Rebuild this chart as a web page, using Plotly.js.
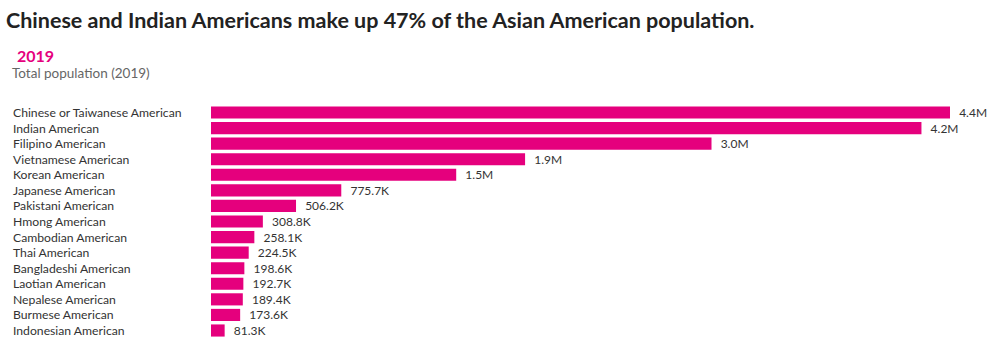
<!DOCTYPE html>
<html><head><meta charset="utf-8">
<script src="https://cdn.plot.ly/plotly-3.0.1.min.js"></script>
<style>body{margin:0;background:#fff}#c{width:1000px;height:361px}</style>
</head><body><div id="c"></div>
<script>
const categories = ["Chinese or Taiwanese American","Indian American","Filipino American","Vietnamese American","Korean American","Japanese American","Pakistani American","Hmong American","Cambodian American","Thai American","Bangladeshi American","Laotian American","Nepalese American","Burmese American","Indonesian American"];
const population = [4400000,4230000,2980000,1870000,1460000,775700,506200,308800,258100,224500,198600,192700,189400,173600,81300];
const valueLabels = ["4.4M","4.2M","3.0M","1.9M","1.5M","775.7K","506.2K","308.8K","258.1K","224.5K","198.6K","192.7K","189.4K","173.6K","81.3K"];
const FONT = "Lato, 'Open Sans', sans-serif";
const L = 211, R = 50, W = 1000 - L - R;
const annotations = [
  {text:"<b>Chinese and Indian Americans make up 47% of the Asian American population.</b>", xref:"paper", yref:"paper", x:-(L-4)/W, y:1, yshift:83, xanchor:"left", yanchor:"middle", showarrow:false, font:{family:FONT,size:21.5,color:"#222"}},
  {text:"<b>2019</b>", xref:"paper", yref:"paper", x:-(L-15)/W, y:1, yshift:48, xanchor:"left", yanchor:"middle", showarrow:false, font:{family:FONT,size:16,color:"#E5007D"}},
  {text:"Total population (2019)", xref:"paper", yref:"paper", x:-(L-10)/W, y:1, yshift:30, xanchor:"left", yanchor:"middle", showarrow:false, font:{family:FONT,size:13.5,color:"#666"}}
];
categories.forEach(c => annotations.push({text:c, xref:"paper", yref:"y", x:-(L-11)/W, y:c, xanchor:"left", yanchor:"middle", showarrow:false, font:{family:FONT,size:12.2,color:"#333"}}));
Plotly.newPlot("c", [{
  type:"bar", orientation:"h", y:categories, x:population,
  marker:{color:"#E5007D"}, text:valueLabels.map(t => "\u00a0\u00a0" + t), textposition:"outside", cliponaxis:false,
  constraintext:"none",
  textfont:{family:FONT,size:12,color:"#333"}, hoverinfo:"none"
}], {
  width:1000, height:361, margin:{l:L, r:R, t:103, b:21},
  paper_bgcolor:"#fff", plot_bgcolor:"#fff", bargap:0.22, showlegend:false,
  xaxis:{range:[0,4400000], visible:false, fixedrange:true},
  yaxis:{autorange:"reversed", showticklabels:false, showgrid:false, zeroline:false, fixedrange:true},
  annotations
}, {displayModeBar:false, staticPlot:true});
</script></body></html>
